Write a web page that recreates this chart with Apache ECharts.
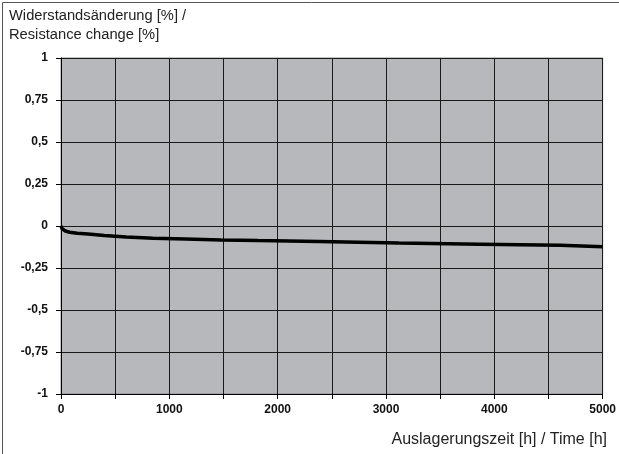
<!DOCTYPE html>
<html><head><meta charset="utf-8">
<script src="https://cdn.jsdelivr.net/npm/echarts@6/dist/echarts.min.js"></script>
<style>html,body{margin:0;padding:0;background:#fff}#c{width:619px;height:454px}</style>
</head><body><div id="c"></div>
<script>
const hours = [0, 10, 40, 80, 150, 250, 400, 600, 850, 1150, 1160, 1480, 1490, 1820, 1830, 2380, 2390, 3120, 3130, 3870, 3880, 4610, 4620, 5000];
const change = [0, -0.015, -0.03, -0.037, -0.043, -0.048, -0.057, -0.066, -0.073, -0.077, -0.083, -0.083, -0.087, -0.087, -0.093, -0.093, -0.101, -0.101, -0.108, -0.108, -0.115, -0.115, -0.123, -0.123];
const xLabels = [0, 1000, 2000, 3000, 4000, 5000];
const yTitle = 'Widerstandsänderung [%] /\nResistance change [%]';
const xTitle = 'Auslagerungszeit [h] / Time [h]';

const chart = echarts.init(document.getElementById('c'));
const font = 'Liberation Sans, Arial, sans-serif';
chart.setOption({
  animation: false,
  backgroundColor: '#fff',
  grid: { left: 61, right: 15, top: 58, bottom: 60, show: true, backgroundColor: '#b7b8bc', borderColor: '#8a8a8c', borderWidth: 1 },
  graphic: [
    { type: 'rect', shape: { x: 2.5, y: 2.5, width: 640, height: 460 }, style: { fill: 'none', stroke: '#555', lineWidth: 1 }, z: -1 },
    { type: 'text', left: 9, top: 6, style: { text: yTitle, font: '14.7px ' + font, fill: '#222', lineHeight: 19 } },
    { type: 'text', right: 12, top: 432, style: { text: xTitle, font: '16px ' + font, fill: '#222' } }
  ],
  xAxis: {
    type: 'value', min: 0, max: 5000, interval: 500,
    axisLine: { show: true, onZero: false, lineStyle: { color: '#000', width: 1 } },
    axisTick: { show: true, length: 5, lineStyle: { color: '#000' } },
    axisLabel: { margin: 10, color: '#111', fontWeight: 'bold', fontSize: 12, fontFamily: font,
      formatter: v => xLabels.includes(v) ? String(v) : '' },
    splitLine: { show: true, lineStyle: { color: '#1a1a1a', width: 1 } }
  },
  yAxis: {
    type: 'value', min: -1, max: 1, interval: 0.25,
    axisLine: { show: true, lineStyle: { color: '#000', width: 1 } },
    axisTick: { show: true, length: 5, lineStyle: { color: '#000' } },
    axisLabel: { margin: 13, color: '#111', fontWeight: 'bold', fontSize: 12, fontFamily: font,
      formatter: v => String(v).replace('.', ',') },
    splitLine: { show: true, lineStyle: { color: '#1a1a1a', width: 1 } }
  },
  series: [{
    type: 'line', data: hours.map((h, i) => [h, change[i]]),
    showSymbol: false, lineStyle: { color: '#000', width: 3.5 }
  }]
});
</script></body></html>
